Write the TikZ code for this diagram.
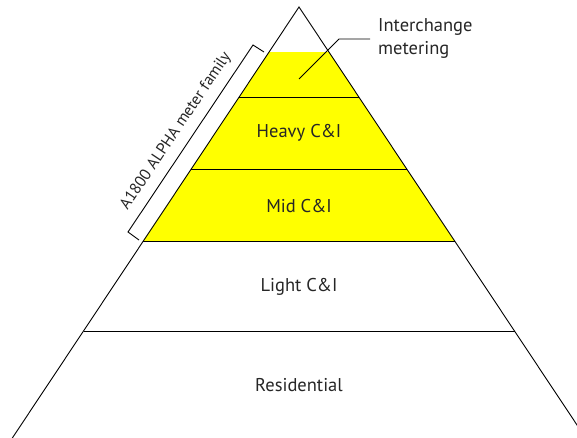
\documentclass[tikz,border=0pt]{standalone}
\usepackage{fontspec}
\setmainfont{PT Sans}
\definecolor{bandyellow}{RGB}{255,255,0}
\begin{document}
\begin{tikzpicture}[x=1pt,y=-1pt,
  edge/.style={draw=black,line width=0.9pt},
  lbl/.style={font=\fontsize{18.5}{22}\selectfont,text=black!85,inner sep=0pt}]
\useasboundingbox (0,0) rectangle (577,437);
\clip (0,0) rectangle (577,437);
% key coordinates
\coordinate (apex) at (299,7);
\coordinate (bl) at (7,446);
\coordinate (br) at (591,446);
\coordinate (y1l) at (269.1,52); \coordinate (y1r) at (328.9,52);
\coordinate (y2l) at (239.1,97); \coordinate (y2r) at (358.9,97);
\coordinate (y3l) at (191.3,169); \coordinate (y3r) at (406.7,169);
\coordinate (y4l) at (143.4,241); \coordinate (y4r) at (454.6,241);
\coordinate (y5l) at (83.5,331); \coordinate (y5r) at (514.5,331);
% yellow band
\fill[bandyellow] (y1l) -- (y1r) -- (y4r) -- (y4l) -- cycle;
% pyramid
\draw[edge] (bl) -- (apex) -- (br);
\draw[edge] (y2l) -- (y2r);
\draw[edge] (y3l) -- (y3r);
\draw[edge] (y4l) -- (y4r);
\draw[edge] (y5l) -- (y5r);
% labels
\node[lbl] (heavy) at (299,133) {Heavy C\&I};
\node[lbl] (mid) at (299,206) {Mid C\&I};
\node[lbl] (light) at (299,287) {Light C\&I};
\node[lbl] (res) at (299,385) {Residential};
\node[lbl,anchor=west,align=left] (inter) at (378,38) {Interchange\\[1pt]metering};
% leader
\coordinate (ptr) at (299,79);
\coordinate (bend) at (339,39);
\coordinate (lend) at (370,39);
\draw[edge] (ptr) -- (bend) -- (lend);
% bracket
\coordinate (bt1) at (264,52);
\coordinate (bt2) at (253,45);
\coordinate (bb2) at (128,232);
\coordinate (bb1) at (139,240);
\draw[edge] (bt1) -- (bt2) -- (bb2) -- (bb1);
\node[lbl,rotate=56.2,font=\fontsize{16}{19}\selectfont] (fam) at (176,131) {A1800 ALPHA meter family};
\end{tikzpicture}
\end{document}
